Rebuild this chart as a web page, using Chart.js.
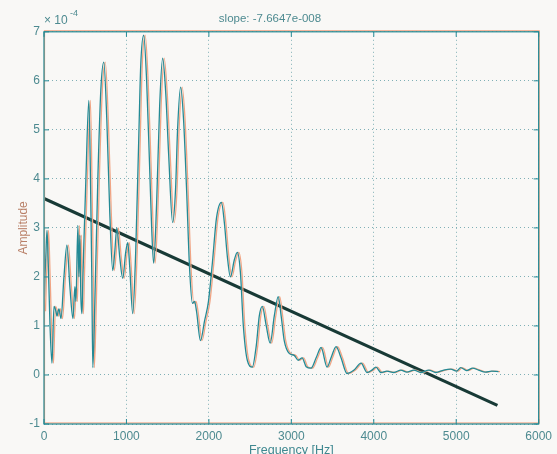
<!DOCTYPE html>
<html>
<head>
<meta charset="utf-8">
<script src="https://cdn.jsdelivr.net/npm/chart.js@4.4.1/dist/chart.umd.min.js"></script>
<style>
  html, body { margin: 0; padding: 0; background: #f9f8f6; }
  #wrap { width: 557px; height: 454px; }
</style>
</head>
<body>
<div id="wrap"><canvas id="c" width="557" height="454"></canvas></div>
<script>
// Spectrum (Frequency in Hz, Amplitude in units of 1e-4)
const freqHz = [0,12,24,36,48,73,97,121,145,157,181,206,242,278,314,351,375,387,411,423,435,447,460,472,484,508,544,568,580,592,617,653,689,725,762,798,834,858,883,919,955,991,1016,1040,1076,1112,1149,1173,1209,1245,1282,1306,1330,1366,1403,1439,1475,1512,1560,1596,1620,1657,1693,1729,1765,1801,1826,1850,1898,1947,1995,2043,2092,2152,2188,2225,2261,2309,2345,2382,2418,2466,2527,2575,2611,2648,2696,2744,2793,2841,2877,2914,2974,3035,3083,3131,3180,3240,3301,3361,3434,3482,3543,3603,3676,3761,3846,3918,3978,4026,4087,4159,4244,4328,4401,4486,4570,4667,4752,4848,4933,5005,5054,5126,5199,5271,5356,5429,5513];
const amplitude = [1.3,2.0,2.5,2.95,2.5,1.0,0.24,1.4,1.3,1.2,1.35,1.15,2.0,2.65,1.8,1.15,1.8,1.5,3.05,2.0,2.85,1.6,1.25,2.0,2.7,4.0,5.6,3.5,2.0,0.15,1.5,4.0,5.8,6.38,5.2,3.3,2.13,2.5,3.0,2.4,1.97,2.5,2.7,2.2,1.25,2.5,4.8,6.3,6.93,6.0,4.2,3.0,2.28,3.5,5.5,6.46,5.8,4.5,3.11,3.8,5.0,5.87,5.2,3.8,2.2,1.46,1.5,1.3,0.7,1.1,1.5,2.3,3.2,3.52,3.1,2.4,2.0,2.35,2.5,2.1,1.0,0.3,0.16,0.6,1.2,1.4,1.0,0.65,1.2,1.6,1.2,0.7,0.44,0.4,0.3,0.35,0.17,0.14,0.35,0.56,0.16,0.35,0.58,0.35,0.03,0.1,0.24,0.05,0.1,0.16,0.05,0.08,0.05,0.1,0.06,0.1,0.05,0.1,0.05,0.1,0.12,0.08,0.15,0.09,0.14,0.1,0.06,0.08,0.07];
// Linear fit (slope -7.6647e-8 per Hz)
const fitHz = [0, 5500];
const fitAmp = [3.6, -0.62];
const xTicks = [0,1000,2000,3000,4000,5000,6000];
const yTicks = [-1,0,1,2,3,4,5,6,7];
const titleText = 'slope: -7.6647e-008';

const TEAL = '#238a95';
const ORANGE = '#f0a585';
const FONT = '"Liberation Sans", Arial, sans-serif';

const spectrum = freqHz.map((f, i) => ({x: f, y: amplitude[i]}));
const fit = fitHz.map((f, i) => ({x: f, y: fitAmp[i]}));

const bgPlugin = {
  id: 'bg',
  beforeDraw(chart) {
    const ctx = chart.ctx;
    ctx.save();
    ctx.fillStyle = '#f9f8f6';
    ctx.fillRect(0, 0, chart.width, chart.height);
    ctx.restore();
  }
};

const shadowPlugin = {
  id: 'aberr',
  beforeDatasetDraw(chart, args) {
    const ctx = chart.ctx;
    ctx.save();
    if (args.index === 0) {
      ctx.shadowColor = ORANGE;
      ctx.shadowOffsetX = 1.5;
      ctx.shadowOffsetY = 0;
      ctx.shadowBlur = 0;
    }
  },
  afterDatasetDraw(chart) {
    chart.ctx.restore();
  }
};

const framePlugin = {
  id: 'frame',
  afterDatasetsDraw(chart) {
    const {ctx, chartArea: a, scales} = chart;
    ctx.save();
    ctx.lineWidth = 1.2;
    ctx.strokeStyle = ORANGE;
    ctx.strokeRect(a.left + 0.5, a.top - 1, a.right - a.left, a.bottom - a.top);
    ctx.strokeStyle = TEAL;
    ctx.strokeRect(a.left, a.top, a.right - a.left, a.bottom - a.top);
    ctx.lineWidth = 1;
    ctx.strokeStyle = TEAL;
    const tl = 5;
    xTicks.forEach(v => {
      const px = scales.x.getPixelForValue(v);
      ctx.beginPath();
      ctx.moveTo(px, a.bottom); ctx.lineTo(px, a.bottom - tl);
      ctx.moveTo(px, a.top); ctx.lineTo(px, a.top + tl);
      ctx.stroke();
    });
    yTicks.forEach(v => {
      const py = scales.y.getPixelForValue(v);
      ctx.beginPath();
      ctx.moveTo(a.left, py); ctx.lineTo(a.left + tl, py);
      ctx.moveTo(a.right, py); ctx.lineTo(a.right - tl, py);
      ctx.stroke();
    });
    ctx.fillStyle = '#4d8a90';
    ctx.font = '12px ' + FONT;
    ctx.textBaseline = 'middle';
    ctx.textAlign = 'left';
    ctx.fillText('\u00d7 10', a.left, 21);
    ctx.font = '9px ' + FONT;
    ctx.fillText('-4', a.left + 26, 14);
    ctx.restore();
  }
};

new Chart(document.getElementById('c'), {
  type: 'scatter',
  data: {
    datasets: [
      {
        data: spectrum,
        showLine: true,
        borderColor: TEAL,
        borderWidth: 1.3,
        pointRadius: 0,
        tension: 0.35,
        cubicInterpolationMode: 'monotone'
      },
      {
        data: fit,
        showLine: true,
        borderColor: '#183a36',
        borderWidth: 3,
        pointRadius: 0
      }
    ]
  },
  options: {
    responsive: false,
    animation: false,
    devicePixelRatio: 1,
    layout: { padding: { left: 0, right: 17, top: 0, bottom: 0 } },
    plugins: {
      legend: { display: false },
      tooltip: { enabled: false },
      title: {
        display: true,
        text: titleText,
        color: '#4d8a90',
        font: { family: FONT, size: 11.5, weight: 'normal' },
        padding: { top: 12, bottom: 6 }
      }
    },
    scales: {
      x: {
        type: 'linear',
        min: 0, max: 6000,
        afterBuildTicks(scale) { scale.ticks = xTicks.map(v => ({value: v})); },
        afterFit(scale) { scale.height = 30; },
        ticks: {
          color: '#4d8a90',
          font: { family: FONT, size: 12 },
          padding: 5,
          maxRotation: 0,
          callback: v => String(v)
        },
        grid: { color: '#80b0b6', lineWidth: 1, drawTicks: false },
        border: { display: false, dash: [1, 3] },
        title: {
          display: true,
          text: 'Frequency [Hz]',
          color: '#3f8890',
          font: { family: FONT, size: 12.5 },
          padding: { top: 0, bottom: -4 }
        }
      },
      y: {
        type: 'linear',
        min: -1, max: 7,
        afterBuildTicks(scale) { scale.ticks = yTicks.map(v => ({value: v})); },
        afterFit(scale) { scale.width = 44; },
        ticks: {
          color: '#4d8a90',
          font: { family: FONT, size: 12 },
          padding: 4,
          callback: v => String(v)
        },
        grid: { color: '#80b0b6', lineWidth: 1, drawTicks: false },
        border: { display: false, dash: [1, 3] },
        title: {
          display: true,
          text: 'Amplitude',
          color: '#b98068',
          font: { family: FONT, size: 12 },
          padding: { top: 16, bottom: 0 }
        }
      }
    }
  },
  plugins: [bgPlugin, shadowPlugin, framePlugin]
});
</script>
</body>
</html>
